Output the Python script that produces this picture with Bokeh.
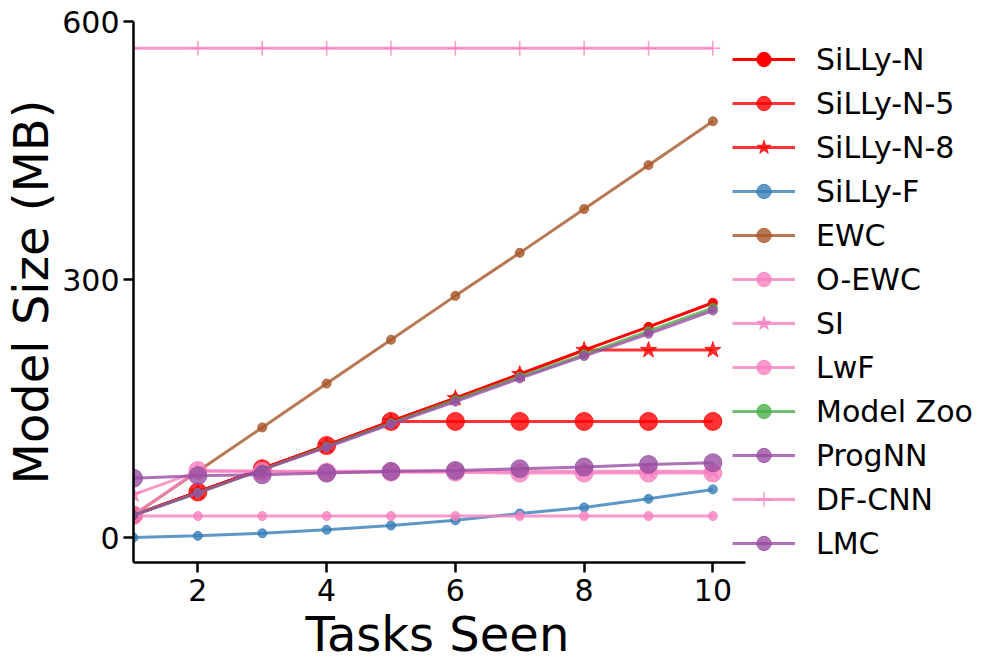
from bokeh.plotting import figure
from bokeh.models import Legend, LegendItem, FixedTicker, Range1d, Title
from bokeh.embed import file_html
from bokeh.resources import INLINE

tasks = [1, 2, 3, 4, 5, 6, 7, 8, 9, 10]
silly_n = [26, 53, 80, 107, 135, 162, 190, 218, 245, 273]
silly_n5 = [26, 53, 80, 107, 135, 135, 135, 135, 135, 135]
silly_n8 = [26, 53, 80, 107, 135, 162, 190, 218, 218, 218]
silly_f = [0, 2, 5, 9, 14, 20, 28, 35, 45, 56]
ewc = [26, 77, 128, 179, 230, 281, 331, 382, 433, 484]
o_ewc = [26, 78, 77, 76, 76, 76, 75, 75, 75, 75]
si = [50, 77, 77, 77, 77, 77, 77, 77, 77, 77]
lwf = [25, 25, 25, 25, 25, 25, 25, 25, 25, 25]
model_zoo = [26, 52, 79, 106, 133, 160, 187, 213, 240, 267]
prognn = [26, 52, 79, 105, 132, 158, 185, 211, 237, 264]
df_cnn = [569, 569, 569, 569, 569, 569, 569, 569, 569, 569]
lmc = [69, 72, 73, 75, 77, 78, 80, 82, 85, 87]

x_ticks = [2, 4, 6, 8, 10]
y_ticks = [0, 300, 600]

RED = "#ff0000"
BLUE = "#377eb8"
BROWN = "#a65628"
PINK = "#f781bf"
GREEN = "#4daf4a"
PURPLE = "#984ea3"

series = [
    ("SiLLy-N", silly_n, RED, "circle", 9, 1.0),
    ("SiLLy-N-5", silly_n5, RED, "circle", 18, 0.8),
    ("SiLLy-N-8", silly_n8, RED, "star", 17, 0.8),
    ("SiLLy-F", silly_f, BLUE, "circle", 9, 0.8),
    ("EWC", ewc, BROWN, "circle", 9, 0.8),
    ("O-EWC", o_ewc, PINK, "circle", 18, 0.8),
    ("SI", si, PINK, "star", 17, 0.8),
    ("LwF", lwf, PINK, "circle", 9, 0.8),
    ("Model Zoo", model_zoo, GREEN, "circle", 9, 0.8),
    ("ProgNN", prognn, PURPLE, "circle", 9, 0.8),
    ("DF-CNN", df_cnn, PINK, "cross", 15, 0.8),
    ("LMC", lmc, PURPLE, "circle", 18, 0.8),
]

FONT = "DejaVu Sans"

p = figure(width=990, height=661, output_backend="svg", toolbar_location=None,
           x_range=Range1d(1, 14.126), y_range=Range1d(-29, 600),
           min_border_left=133, min_border_right=12, min_border_top=21,
           min_border_bottom=60)
p.outline_line_color = None
p.grid.visible = False
p.background_fill_color = "white"
p.border_fill_color = "white"

items = []
for name, ys, col, marker, size, alpha in series:
    r1 = p.line(tasks, ys, line_color=col, line_width=3, line_alpha=alpha)
    if marker == "cross":
        r2 = p.scatter(tasks, ys, marker="cross", size=size, line_color=col,
                       line_alpha=alpha, line_width=1.5)
    else:
        r2 = p.scatter(tasks, ys, marker=marker, size=size, fill_color=col,
                       line_color=col, fill_alpha=alpha, line_alpha=alpha,
                       line_width=1)
    items.append(LegendItem(label=name, renderers=[r1, r2]))

legend = Legend(items=items, location=(599, 1), orientation="vertical",
                label_text_font=FONT, label_text_font_size="30px",
                label_text_color="black",
                glyph_width=63, glyph_height=36, label_height=36,
                spacing=8, padding=0, margin=0, label_standoff=21,
                border_line_color=None, background_fill_alpha=0)
p.add_layout(legend, "center")

for ax in (p.xaxis[0], p.yaxis[0]):
    ax.axis_line_width = 2.5
    ax.axis_line_color = "black"
    ax.major_tick_line_width = 2.5
    ax.major_tick_line_color = "black"
    ax.major_tick_out = 10
    ax.major_tick_in = 0
    ax.minor_tick_line_color = None
    ax.major_label_text_font = FONT
    ax.major_label_text_font_size = "30px"
    ax.major_label_text_color = "black"
    ax.axis_label_text_font = FONT
    ax.axis_label_text_font_size = "48px"
    ax.axis_label_text_font_style = "normal"
    ax.axis_label_text_color = "black"

p.xaxis.ticker = FixedTicker(ticks=x_ticks)
p.yaxis.ticker = FixedTicker(ticks=y_ticks)
p.xaxis.bounds = (1, 10.5)
p.yaxis.axis_label = "Model Size (MB)"
p.xaxis.major_label_standoff = 6
p.yaxis.major_label_standoff = 4
p.yaxis.axis_label_standoff = 0

xlabel = Title(text="Tasks Seen", align="left", offset=172, standoff=0,
               text_font=FONT, text_font_size="48px",
               text_font_style="normal", text_color="black")
p.add_layout(xlabel, "below")

open("out.html", "w").write(file_html(p, INLINE))
